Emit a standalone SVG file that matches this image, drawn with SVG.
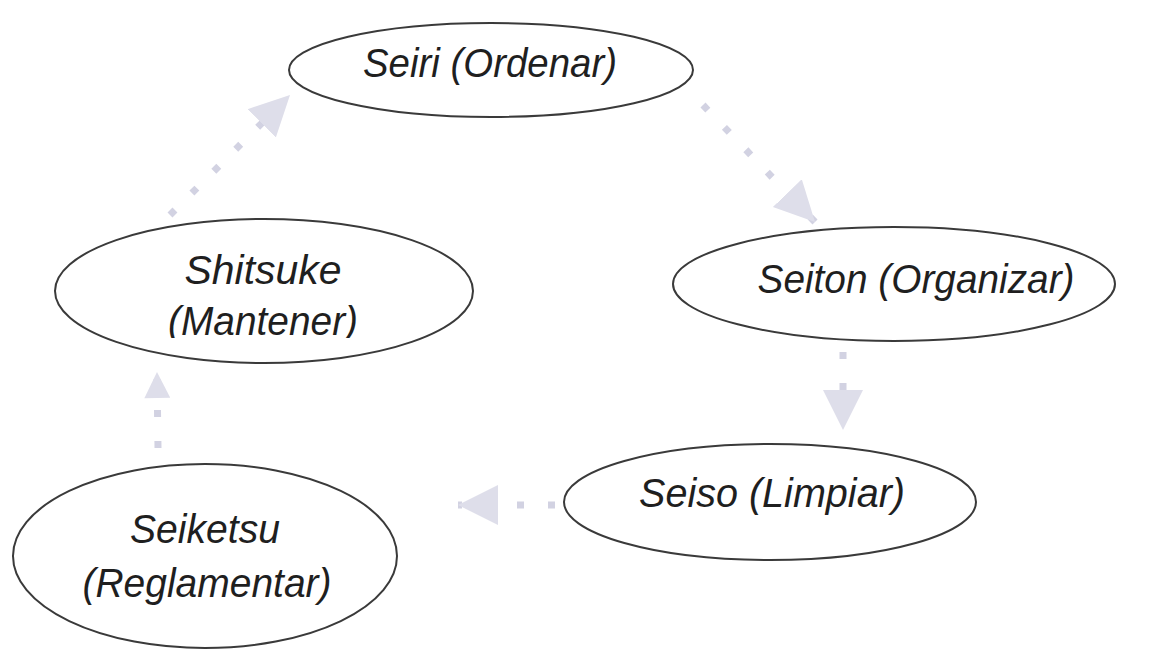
<svg xmlns="http://www.w3.org/2000/svg" width="1159" height="665" viewBox="0 0 1159 665">
<style>
.node ellipse{fill:#ffffff;stroke:#3a3a3a;stroke-width:2}
.node text{font-family:"Liberation Sans",Arial,sans-serif;font-style:italic;font-size:41px;fill:#1f1f1f;text-anchor:middle}
.conn line{stroke:#d2d2e2;stroke-width:7;stroke-dasharray:7 24;fill:none}
</style>
<defs>
<marker id="arr" viewBox="0 0 10 10" refX="10" refY="5" markerUnits="userSpaceOnUse" markerWidth="40" markerHeight="44" orient="auto">
<path d="M0,0 L10,5 L0,10 Z" fill="#dedeea"/>
</marker>
<marker id="arrS" viewBox="0 0 10 10" refX="10" refY="5" markerUnits="userSpaceOnUse" markerWidth="32" markerHeight="26" orient="auto">
<path d="M0,0 L10,5 L0,10 Z" fill="#dedeea"/>
</marker>
<clipPath id="clipM"><rect x="0" y="0" width="1159" height="338"/></clipPath>
</defs>
<rect width="1159" height="665" fill="#ffffff"/>
<g id="connectors" class="conn">
<line x1="703" y1="105" x2="815" y2="222" marker-end="url(#arr)"/>
<line x1="843" y1="352" x2="843" y2="430" marker-end="url(#arr)"/>
<line x1="555" y1="505" x2="458" y2="505" marker-end="url(#arr)"/>
<line x1="158" y1="448" x2="157" y2="372" marker-end="url(#arrS)"/>
<line x1="170" y1="215" x2="290" y2="95" marker-end="url(#arr)"/>
</g>
<g id="seiri" class="node">
<ellipse cx="491" cy="70" rx="202" ry="47"/>
<text x="490" y="77" textLength="254" lengthAdjust="spacingAndGlyphs">Seiri (Ordenar)</text>
</g>
<g id="seiton" class="node">
<ellipse cx="894" cy="284" rx="221" ry="57"/>
<text x="916" y="293" textLength="317" lengthAdjust="spacingAndGlyphs">Seiton (Organizar)</text>
</g>
<g id="seiso" class="node">
<ellipse cx="770" cy="502" rx="206" ry="58"/>
<text x="772" y="507" textLength="266" lengthAdjust="spacingAndGlyphs">Seiso (Limpiar)</text>
</g>
<g id="shitsuke" class="node">
<ellipse cx="264" cy="291" rx="209" ry="72"/>
<text x="263" y="284" textLength="157" lengthAdjust="spacingAndGlyphs">Shitsuke</text>
<text x="263" y="335" textLength="190" lengthAdjust="spacingAndGlyphs" clip-path="url(#clipM)">(Mantener)</text>
</g>
<g id="seiketsu" class="node">
<ellipse cx="205" cy="556" rx="192" ry="92"/>
<text x="205" y="543" textLength="150" lengthAdjust="spacingAndGlyphs">Seiketsu</text>
<text x="207" y="597" textLength="249" lengthAdjust="spacingAndGlyphs">(Reglamentar)</text>
</g>
</svg>
